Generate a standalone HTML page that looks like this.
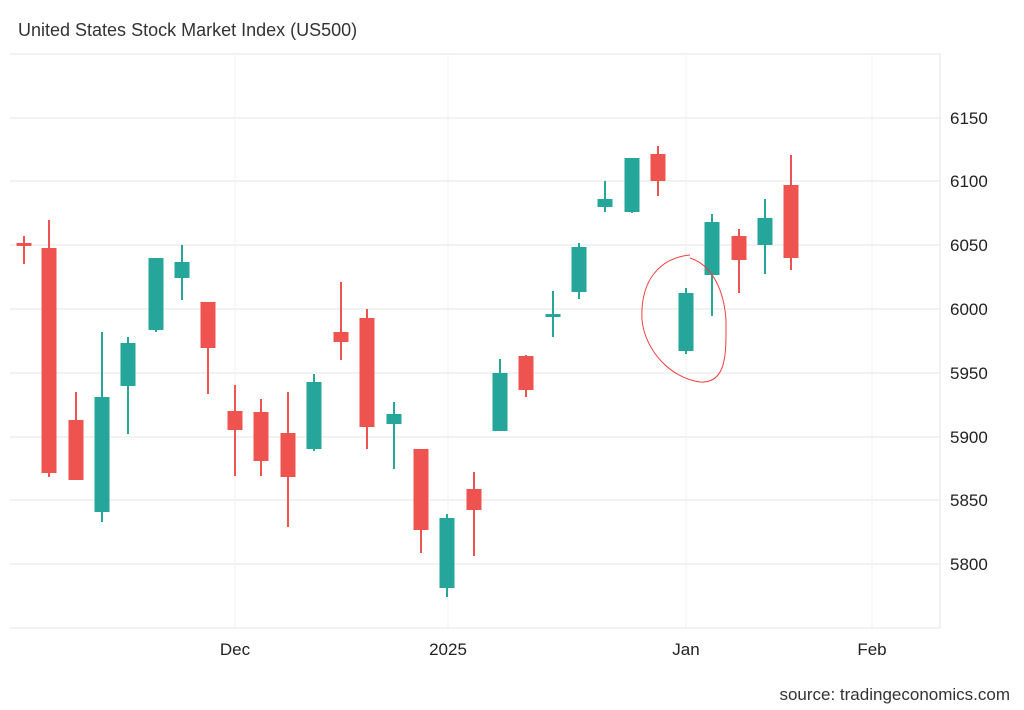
<!DOCTYPE html><html><head><style>body{margin:0;background:#fff}svg{display:block}</style></head><body>
<svg width="1024" height="710" xmlns="http://www.w3.org/2000/svg" font-family="Liberation Sans, Arial, sans-serif">
<text x="18" y="36" font-size="18" fill="#333">United States Stock Market Index (US500)</text>
<g stroke="#e6e6e6" stroke-width="1">
<line x1="10" y1="54" x2="940" y2="54"/>
<line x1="10" y1="118" x2="940" y2="118"/><line x1="10" y1="181" x2="940" y2="181"/><line x1="10" y1="245" x2="940" y2="245"/><line x1="10" y1="309" x2="940" y2="309"/><line x1="10" y1="373" x2="940" y2="373"/><line x1="10" y1="437" x2="940" y2="437"/><line x1="10" y1="500" x2="940" y2="500"/><line x1="10" y1="564" x2="940" y2="564"/><line x1="10" y1="628" x2="940" y2="628"/>
<line x1="940" y1="54" x2="940" y2="628"/>
</g>
<g stroke="#eef2f6"><line x1="235" y1="54" x2="235" y2="628"/><line x1="448" y1="54" x2="448" y2="628"/><line x1="686" y1="54" x2="686" y2="628"/><line x1="872" y1="54" x2="872" y2="628"/></g>
<g font-size="17" fill="#222">
<text x="950" y="124">6150</text><text x="950" y="187">6100</text><text x="950" y="251">6050</text><text x="950" y="315">6000</text><text x="950" y="379">5950</text><text x="950" y="443">5900</text><text x="950" y="506">5850</text><text x="950" y="570">5800</text>
<text x="235" y="655" text-anchor="middle">Dec</text><text x="448" y="655" text-anchor="middle">2025</text><text x="686" y="655" text-anchor="middle">Jan</text><text x="872" y="655" text-anchor="middle">Feb</text>
</g>
<text x="1010" y="700" font-size="17" fill="#333" text-anchor="end">source: tradingeconomics.com</text>
<g stroke="#ef5350" stroke-width="2">
<line x1="24" y1="236" x2="24" y2="264"/><line x1="49" y1="220" x2="49" y2="477"/><line x1="76" y1="392" x2="76" y2="480"/><line x1="208" y1="302" x2="208" y2="394"/><line x1="235" y1="385" x2="235" y2="476"/><line x1="261" y1="399" x2="261" y2="476"/><line x1="288" y1="392" x2="288" y2="527"/><line x1="341" y1="282" x2="341" y2="360"/><line x1="367" y1="309" x2="367" y2="449"/><line x1="421" y1="449" x2="421" y2="553"/><line x1="474" y1="472" x2="474" y2="556"/><line x1="526" y1="355" x2="526" y2="397"/><line x1="658" y1="146" x2="658" y2="196"/><line x1="739" y1="229" x2="739" y2="293"/><line x1="791" y1="155" x2="791" y2="270"/>
</g>
<g fill="#ef5350">
<rect x="16.5" y="243" width="15" height="3"/><rect x="41.5" y="248" width="15" height="225"/><rect x="68.5" y="420" width="15" height="60"/><rect x="200.5" y="302" width="15" height="46"/><rect x="227.5" y="411" width="15" height="19"/><rect x="253.5" y="412" width="15" height="49"/><rect x="280.5" y="433" width="15" height="44"/><rect x="333.5" y="332" width="15" height="10"/><rect x="359.5" y="318" width="15" height="109"/><rect x="413.5" y="449" width="15" height="81"/><rect x="466.5" y="489" width="15" height="21"/><rect x="518.5" y="356" width="15" height="34"/><rect x="650.5" y="154" width="15" height="27"/><rect x="731.5" y="236" width="15" height="24"/><rect x="783.5" y="185" width="15" height="73"/>
</g>
<g stroke="#26a69a" stroke-width="2">
<line x1="102" y1="332" x2="102" y2="522"/><line x1="128" y1="337" x2="128" y2="434"/><line x1="156" y1="258" x2="156" y2="332"/><line x1="182" y1="245" x2="182" y2="300"/><line x1="314" y1="374" x2="314" y2="451"/><line x1="394" y1="402" x2="394" y2="469"/><line x1="447" y1="514" x2="447" y2="597"/><line x1="500" y1="359" x2="500" y2="431"/><line x1="553" y1="291" x2="553" y2="337"/><line x1="579" y1="243" x2="579" y2="299"/><line x1="605" y1="181" x2="605" y2="212"/><line x1="632" y1="158" x2="632" y2="213"/><line x1="686" y1="288" x2="686" y2="354"/><line x1="712" y1="214" x2="712" y2="316"/><line x1="765" y1="199" x2="765" y2="274"/>
</g>
<g fill="#26a69a">
<rect x="94.5" y="397" width="15" height="115"/><rect x="120.5" y="343" width="15" height="43"/><rect x="148.5" y="258" width="15" height="72"/><rect x="174.5" y="262" width="15" height="16"/><rect x="306.5" y="382" width="15" height="67"/><rect x="386.5" y="414" width="15" height="10"/><rect x="439.5" y="518" width="15" height="70"/><rect x="492.5" y="373" width="15" height="58"/><rect x="545.5" y="314" width="15" height="3"/><rect x="571.5" y="247" width="15" height="45"/><rect x="597.5" y="199" width="15" height="8"/><rect x="624.5" y="158" width="15" height="54"/><rect x="678.5" y="293" width="15" height="58"/><rect x="704.5" y="222" width="15" height="53"/><rect x="757.5" y="218" width="15" height="27"/>
</g>
<path d="M690 255 C660 258 640 280 642 320 C645 350 670 378 700 382 C728 384 726 350 726 320 C724 290 712 265 690 258" fill="none" stroke="#f04040" stroke-width="1"/>
</svg></body></html>
